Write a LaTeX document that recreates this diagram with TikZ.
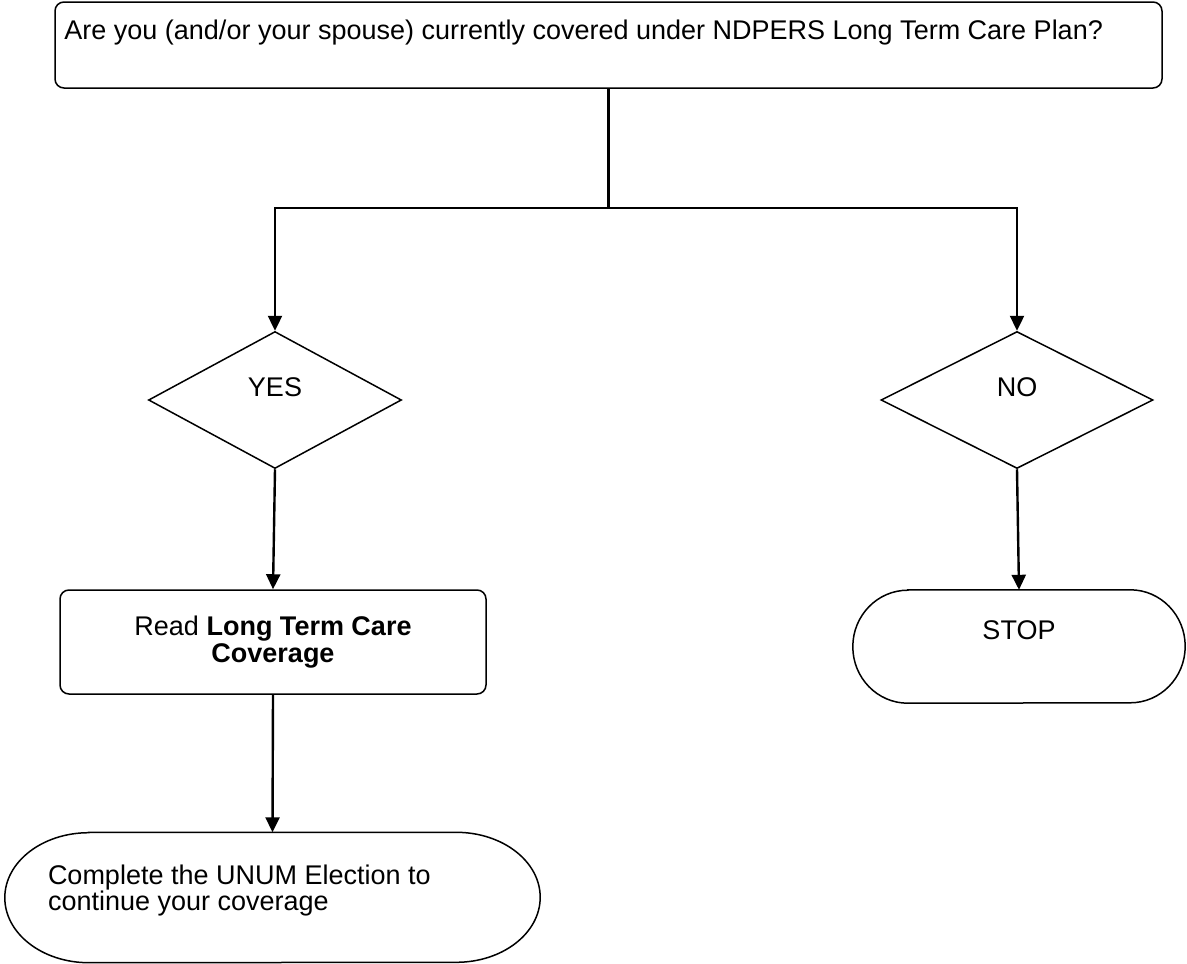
\documentclass[tikz,border=0pt]{standalone}
\usepackage{fontspec}
\setmainfont{Liberation Sans}
\usetikzlibrary{shapes.geometric,arrows.meta,positioning}

\begin{document}
\begin{tikzpicture}[x=1pt, y=-1pt,
  every node/.style = {font=\fontsize{27}{27}\selectfont},
  box/.style = {draw, line width=1.5pt, rounded corners=9pt, inner sep=0pt, align=center},
  choice/.style = {draw, diamond, line width=1.5pt, inner sep=0pt},
  ending/.style = {inner sep=0pt},
  link/.style = {line width=2.4pt, -{Triangle[length=15pt, width=14pt]}}]
  \useasboundingbox (0,0) rectangle (1187,964);

  % question
  \node[box, minimum width=1107pt, minimum height=86pt,
    label={[anchor=north west, inner sep=0pt, xshift=10pt, yshift=-18pt]north west:Are you (and/or your spouse) currently covered under NDPERS Long Term Care Plan?}]
    (ask) at (608.5,45) {};

  % answers
  \node[choice, minimum width=253pt, minimum height=137pt,
    label={[yshift=13pt]center:YES}] (yes) at (275,400) {};
  \node[choice, minimum width=272pt, minimum height=137pt,
    label={[yshift=13pt]center:NO}] (no) at (1017,400) {};

  % yes branch
  \node[box, minimum width=426pt, minimum height=104pt] (read) at (273,642)
    {Read \textbf{Long Term Care}\\\textbf{Coverage}};
  \node[ending, minimum width=535pt, minimum height=130pt,
    label={[anchor=north west, inner sep=0pt, align=left, font=\fontsize{27}{25}\selectfont,
      xshift=43pt, yshift=-32pt]north west:Complete the UNUM Election to\\continue your coverage}]
    (done) at (272.5,897.5) {};
  \draw[line width=1.5pt] ([xshift=84pt]done.north west) -- ([xshift=-84pt]done.north east)
    arc[start angle=90, end angle=-90, x radius=84pt, y radius=65pt]
    -- ([xshift=84pt]done.south west)
    arc[start angle=-90, end angle=-270, x radius=84pt, y radius=65pt] -- cycle;

  % no branch
  \node[ending, minimum width=332pt, minimum height=113pt,
    label={[yshift=16pt]center:STOP}] (stop) at (1019,646.5) {};
  \draw[line width=1.5pt] ([xshift=55pt]stop.north west) -- ([xshift=-55pt]stop.north east)
    arc[start angle=90, end angle=-90, x radius=55pt, y radius=56.5pt]
    -- ([xshift=55pt]stop.south west)
    arc[start angle=-90, end angle=-270, x radius=55pt, y radius=56.5pt] -- cycle;

  % connectors
  \coordinate (split) at (ask.south |- 0,208);
  \draw[line width=2.4pt] (ask.south) -- (split);
  \draw[link] (split) -| (yes.north);
  \draw[link] (split) -| (no.north);
  \draw[link] (yes.south) -- (read.north);
  \draw[link] (read.south) -- (done.north);
  \draw[link] (no.south) -- (stop.north);
\end{tikzpicture}
\end{document}
